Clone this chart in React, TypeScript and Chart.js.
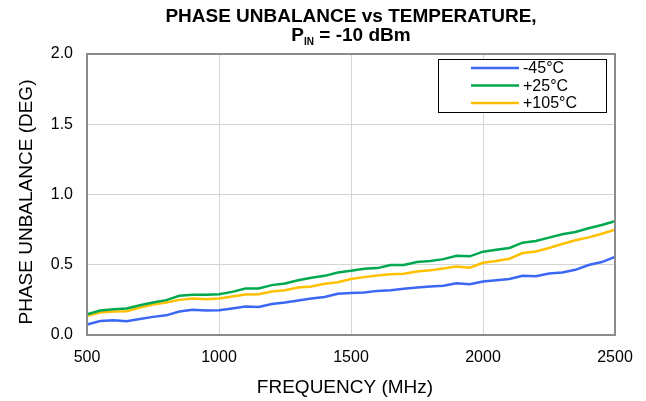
import React, { useEffect, useRef } from "react";
import { Chart, registerables } from "chart.js";

Chart.register(...registerables);

const FREQUENCIES = [
  500, 550, 600, 650, 700, 750, 800, 850, 900, 950, 1000, 1050, 1100, 1150, 1200, 1250, 1300, 1350, 1400, 1450,
  1500, 1550, 1600, 1650, 1700, 1750, 1800, 1850, 1900, 1950, 2000, 2050, 2100, 2150, 2200, 2250, 2300, 2350,
  2400, 2450, 2500,
];

const MINUS_45 = [
  0.074, 0.1, 0.105, 0.098, 0.114, 0.129, 0.14, 0.167, 0.179, 0.174, 0.176, 0.188, 0.202, 0.2, 0.221, 0.231, 0.245,
  0.26, 0.271, 0.293, 0.299, 0.302, 0.314, 0.319, 0.329, 0.338, 0.345, 0.35, 0.369, 0.362, 0.381, 0.39, 0.398, 0.421,
  0.419, 0.438, 0.445, 0.464, 0.498, 0.519, 0.555,
];

const PLUS_25 = [
  0.148, 0.174, 0.183, 0.188, 0.212, 0.231, 0.248, 0.279, 0.286, 0.286, 0.29, 0.307, 0.331, 0.331, 0.355, 0.367, 0.39,
  0.407, 0.421, 0.445, 0.457, 0.471, 0.476, 0.498, 0.498, 0.519, 0.526, 0.54, 0.564, 0.56, 0.593, 0.607, 0.619, 0.657,
  0.669, 0.693, 0.717, 0.733, 0.76, 0.783, 0.81,
];

const PLUS_105 = [
  0.136, 0.16, 0.167, 0.169, 0.195, 0.217, 0.231, 0.25, 0.26, 0.255, 0.26, 0.274, 0.288, 0.29, 0.31, 0.319, 0.338,
  0.345, 0.364, 0.376, 0.398, 0.412, 0.424, 0.433, 0.436, 0.452, 0.46, 0.474, 0.488, 0.479, 0.514, 0.526, 0.543, 0.583,
  0.595, 0.619, 0.648, 0.674, 0.695, 0.721, 0.75,
];

const SERIES_LABELS = ["-45°C", "+25°C", "+105°C"];
const SERIES_COLORS = ["#3b67f5", "#00a84f", "#ffc000"];

const TITLE_LINE_1 = "PHASE UNBALANCE vs TEMPERATURE,";
const TITLE_P = "P";
const TITLE_SUB = "IN";
const TITLE_REST = " = -10 dBm";
const X_TITLE = "FREQUENCY (MHz)";
const Y_TITLE = "PHASE UNBALANCE (DEG)";

const FONT = "'Liberation Sans', Arial, sans-serif";

const decorPlugin = {
  id: "decor",
  afterDraw(chart: any) {
    const ctx = chart.ctx as CanvasRenderingContext2D;
    const a = chart.chartArea;
    ctx.save();
    // frame
    ctx.strokeStyle = "#8c8c8c";
    ctx.lineWidth = 2;
    ctx.strokeRect(a.left, a.top, a.right - a.left, a.bottom - a.top);

    // titles
    const cx = (a.left + a.right) / 2;
    ctx.fillStyle = "#000";
    ctx.textBaseline = "alphabetic";
    ctx.textAlign = "center";
    const bigFont = `bold 19px ${FONT}`;
    const subFont = `bold 10px ${FONT}`;
    ctx.font = bigFont;
    ctx.fillText(TITLE_LINE_1, cx, 22);
    // second line with subscript
    const wP = ctx.measureText(TITLE_P).width;
    const wR = ctx.measureText(TITLE_REST).width;
    ctx.font = subFont;
    const wS = ctx.measureText(TITLE_SUB).width;
    const total = wP + wS + wR;
    let x = cx - total / 2;
    ctx.textAlign = "left";
    ctx.font = bigFont;
    ctx.fillText(TITLE_P, x, 41);
    x += wP;
    ctx.font = subFont;
    ctx.fillText(TITLE_SUB, x, 45);
    x += wS;
    ctx.font = bigFont;
    ctx.fillText(TITLE_REST, x, 41);

    // axis titles
    ctx.font = `19px ${FONT}`;
    ctx.textAlign = "center";
    ctx.textBaseline = "alphabetic";
    ctx.fillText(X_TITLE, 345, 393);
    ctx.textBaseline = "middle";
    ctx.translate(27, 202);
    ctx.rotate(-Math.PI / 2);
    ctx.fillText(Y_TITLE, 0, 0);
    ctx.restore();

    // legend
    ctx.save();
    const lx = 438.5, ly = 59.5, lw = 168, lh = 53;
    ctx.fillStyle = "#fff";
    ctx.fillRect(lx, ly, lw, lh);
    ctx.strokeStyle = "#000";
    ctx.lineWidth = 1;
    ctx.strokeRect(lx, ly, lw, lh);
    ctx.font = `16px ${FONT}`;
    ctx.textAlign = "left";
    ctx.textBaseline = "middle";
    chart.data.datasets.forEach((ds: any, i: number) => {
      const y = 68 + i * 17.5;
      ctx.strokeStyle = ds.borderColor;
      ctx.lineWidth = 2.5;
      ctx.beginPath();
      ctx.moveTo(471, y);
      ctx.lineTo(519, y);
      ctx.stroke();
      ctx.fillStyle = "#000";
      ctx.fillText(ds.label, 523, y + 1);
    });
    ctx.restore();
  },
};

export default function App() {
  const ref = useRef<HTMLCanvasElement | null>(null);
  useEffect(() => {
    document.body.style.margin = "0";
    const series = [MINUS_45, PLUS_25, PLUS_105];
    const chart = new Chart(ref.current as HTMLCanvasElement, {
      type: "line",
      data: {
        datasets: series.map((vals, i) => ({
          label: SERIES_LABELS[i],
          data: FREQUENCIES.map((f, j) => ({ x: f, y: vals[j] })),
          borderColor: SERIES_COLORS[i],
          backgroundColor: SERIES_COLORS[i],
          borderWidth: 2.5,
          pointRadius: 0,
          tension: 0,
        })),
      },
      options: {
        responsive: false,
        animation: false,
        layout: { padding: { top: 54, right: 31, left: 0, bottom: 0 } },
        plugins: { legend: { display: false }, title: { display: false }, tooltip: { enabled: false } },
        scales: {
          x: {
            type: "linear",
            min: 500,
            max: 2500,
            afterFit: (s: any) => {
              s.height = 66;
            },
            ticks: {
              stepSize: 500,
              padding: 13,
              color: "#000",
              font: { family: FONT, size: 16 },
              maxRotation: 0,
              callback: (v: any) => String(v),
            },
            grid: { color: "#d4d4d4", lineWidth: 1, drawTicks: false },
            border: { display: false },
          },
          y: {
            min: 0,
            max: 2,
            afterFit: (s: any) => {
              s.width = 87;
            },
            ticks: {
              stepSize: 0.5,
              padding: 14,
              color: "#000",
              font: { family: FONT, size: 16 },
              callback: (v: any) => Number(v).toFixed(1),
            },
            grid: { color: "#d4d4d4", lineWidth: 1, drawTicks: false },
            border: { display: false },
          },
        },
      },
      plugins: [decorPlugin],
    } as any);
    return () => chart.destroy();
  }, []);
  return <canvas ref={ref} width={646} height={401} style={{ display: "block", width: 646, height: 401 }} />;
}
